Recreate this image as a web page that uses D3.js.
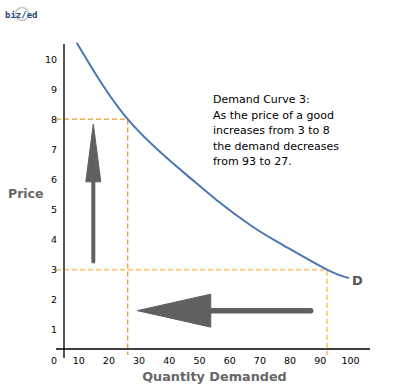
<!DOCTYPE html>
<html>
<head>
<meta charset="utf-8">
<script src="https://cdn.jsdelivr.net/npm/d3@7"></script>
<style>
  body { margin: 0; background: #fff; }
  svg { display: block; }
</style>
</head>
<body>
<script>
const wi = 393, hi = 388;     // width & height

// demand curve
const demandQty   = [9.5, 26.4, 44.7, 56, 67.9, 77.8, 92.4, 99.7];
const demandPrice = [10.54, 8.0, 6.25, 5.3, 4.42, 3.82, 3.0, 2.72];

// the two points that are marked with dashed guides
const markQty   = [26.4, 92.4];
const markPrice = [8, 3];
const markColor = ['#e69b2c', '#ffcb7d'];

const xTicks = [10, 20, 30, 40, 50, 60, 70, 80, 90, 100];
const yTicks = [0, 1, 2, 3, 4, 5, 6, 7, 8, 9, 10];

// arrows: [q, p] of tail, head base, tip
const upArrow   = [[15, 3.27], [15, 5.92], [15, 7.84]];
const leftArrow = [[87, 1.64], [53.9, 1.64], [29.6, 1.64]];

const note = ['Demand Curve 3:', 'As the price of a good', 'increases from 3 to 8',
              'the demand decreases', 'from 93 to 27.'];

const font = 'Verdana, "DejaVu Sans", sans-serif';

let svg = d3.select('body')
    .append('svg')
    .attr('width', wi)
    .attr('height', hi);

let x = d3.scaleLinear().domain([0, 100]).range([48, 350]);
let y = d3.scaleLinear().domain([0, 10]).range([360, 59]);

const axisX = 349, axisY = 64;

// logo
let logo = svg.append('g');
logo.append('circle')
    .attr('cx', 22).attr('cy', 14).attr('r', 6.5)
    .attr('fill', 'none').attr('stroke', '#c8c8c8').attr('stroke-width', 1.5);
logo.append('text')
    .attr('x', 5).attr('y', 18)
    .attr('font-family', '"DejaVu Sans Mono", monospace')
    .attr('font-size', 9).attr('font-weight', 'bold')
    .attr('fill', '#23467a')
    .text('biz/ed');

// dashed guides
markQty.forEach((q, i) => {
    svg.append('path')
        .attr('d', `M${axisY - 8},${y(markPrice[i])}H${x(q)}V${axisX + 6}`)
        .attr('fill', 'none')
        .attr('stroke', markColor[i])
        .attr('stroke-width', i == 0 ? 1.3 : 2)
        .attr('stroke-dasharray', '5,3');
});

// axes
svg.append('line')
    .attr('x1', axisY).attr('x2', axisY).attr('y1', 44).attr('y2', 358)
    .attr('stroke', '#555').attr('stroke-width', 2);
svg.append('line')
    .attr('x1', 56).attr('x2', 370).attr('y1', axisX).attr('y2', axisX)
    .attr('stroke', '#000').attr('stroke-width', 1.3);

let gy = svg.append('g')
    .attr('transform', `translate(${axisY},0)`)
    .call(d3.axisLeft(y).tickValues(yTicks).tickSize(0).tickPadding(7));
let gx = svg.append('g')
    .attr('transform', `translate(0,${axisX})`)
    .call(d3.axisBottom(x).tickValues(xTicks).tickSize(0).tickPadding(8));
[gx, gy].forEach(g => {
    g.select('.domain').remove();
    g.selectAll('text')
        .attr('font-family', font)
        .attr('font-size', 9.5)
        .attr('fill', '#000');
});

// demand curve
let line = d3.line()
    .x((d) => x(d[0]))
    .y((d) => y(d[1]))
    .curve(d3.curveNatural);

svg.append('path')
    .attr('d', line(d3.zip(demandQty, demandPrice)))
    .attr('fill', 'none')
    .attr('stroke', '#4a76b4')
    .attr('stroke-width', 2);

svg.append('text')
    .attr('x', x(demandQty[demandQty.length - 1]) + 3)
    .attr('y', y(demandPrice[demandPrice.length - 1]) + 7)
    .attr('font-family', font).attr('font-size', 13).attr('font-weight', 'bold')
    .attr('fill', '#555')
    .text('D');

// arrows
const arrowCol = '#606060';
svg.append('line')
    .attr('x1', x(upArrow[0][0])).attr('y1', y(upArrow[0][1]))
    .attr('x2', x(upArrow[1][0])).attr('y2', y(upArrow[1][1]))
    .attr('stroke', arrowCol).attr('stroke-width', 4).attr('stroke-linecap', 'round');
svg.append('path')
    .attr('d', () => {
        let bx = x(upArrow[1][0]), by = y(upArrow[1][1]), ty = y(upArrow[2][1]);
        return `M${bx - 7.5},${by}L${bx},${ty}L${bx + 7.5},${by}Z`;
    })
    .attr('fill', arrowCol).attr('stroke', arrowCol).attr('stroke-linejoin', 'round');

svg.append('line')
    .attr('x1', x(leftArrow[0][0])).attr('y1', y(leftArrow[0][1]))
    .attr('x2', x(leftArrow[1][0])).attr('y2', y(leftArrow[1][1]))
    .attr('stroke', arrowCol).attr('stroke-width', 5.5).attr('stroke-linecap', 'round');
svg.append('path')
    .attr('d', () => {
        let bx = x(leftArrow[1][0]), by = y(leftArrow[1][1]), tx = x(leftArrow[2][0]);
        return `M${bx},${by - 16.5}L${tx},${by}L${bx},${by + 16.5}Z`;
    })
    .attr('fill', arrowCol).attr('stroke', arrowCol).attr('stroke-linejoin', 'round');

// note
svg.append('text')
    .attr('font-family', font).attr('font-size', 11).attr('fill', '#000')
    .selectAll('tspan')
    .data(note)
    .enter()
    .append('tspan')
    .attr('x', 213)
    .attr('y', (d, i) => 103 + i * 15.6)
    .text((d) => d);

// axis titles
svg.append('text')
    .attr('x', 8).attr('y', 198)
    .attr('font-family', font).attr('font-size', 12.5).attr('font-weight', 'bold')
    .attr('fill', '#666')
    .text('Price');
svg.append('text')
    .attr('x', 214.5).attr('y', 381)
    .attr('text-anchor', 'middle')
    .attr('font-family', font).attr('font-size', 12.8).attr('font-weight', 'bold')
    .attr('fill', '#666')
    .text('Quantity Demanded');
</script>
</body>
</html>
